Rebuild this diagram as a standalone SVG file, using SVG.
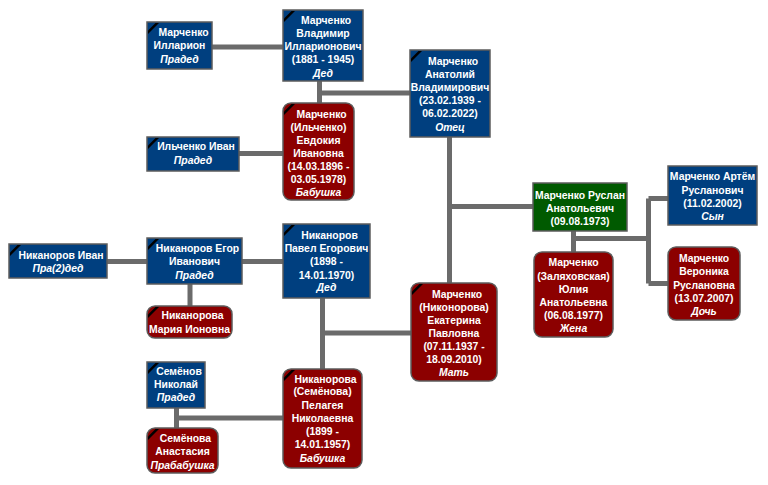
<svg xmlns="http://www.w3.org/2000/svg" width="768" height="485" viewBox="0 0 768 485">
<style>
.bx{stroke:#5c5c5c;stroke-width:1.5}
.b{fill:#003f7f}
.r{fill:#8c0000}
.g{fill:#005a00}
text{font-family:"Liberation Sans",Arial,sans-serif;font-size:10.4px;font-weight:bold;fill:#fff;text-anchor:middle}
.i{font-style:italic}
.c{stroke:#6b6b6b;stroke-width:5;fill:none}
</style>
<defs>
<path id="mk" d="M1,8.5 L8.5,1 L12,1 L1,12 Z" fill="#000"/>
</defs>
<rect width="768" height="485" fill="#fff"/>
<g id="connectors">
<path class="c" d="M212,47 H283"/>
<path class="c" d="M319.5,81 V103 M319.5,93 H410"/>
<path class="c" d="M239,153.5 H283"/>
<path class="c" d="M449.5,137 V283 M449.5,206.5 H533"/>
<path class="c" d="M573.5,231 V252 M573.5,238.5 H648.5 M648.5,198.5 V283.5 M648.5,198.5 H668 M648.5,283.5 H668"/>
<path class="c" d="M107,261.5 H147"/>
<path class="c" d="M190,284 V306"/>
<path class="c" d="M242,261.5 H283"/>
<path class="c" d="M322.5,298 V369 M322.5,333 H411"/>
<path class="c" d="M176.5,408 V428 M176.5,418 H283"/>
</g>
<g id="n1">
<rect class="bx b" x="147" y="22" width="65" height="47"/>
<use href="#mk" x="147" y="22"/>
<text x="183.5" y="35.5">Марченко</text>
<text x="179.5" y="49">Илларион</text>
<text x="179.5" y="62.5" class="i">Прадед</text>
</g>
<g id="n2">
<rect class="bx b" x="283" y="10" width="80" height="71"/>
<use href="#mk" x="283" y="10"/>
<text x="326" y="23.5">Марченко</text>
<text x="323" y="37">Владимир</text>
<text x="323" y="50">Илларионович</text>
<text x="323" y="63">(1881 - 1945)</text>
<text x="323" y="76.5" class="i">Дед</text>
</g>
<g id="n3">
<rect class="bx b" x="410" y="50" width="80" height="87"/>
<use href="#mk" x="410" y="50"/>
<text x="453" y="65">Марченко</text>
<text x="450" y="78">Анатолий</text>
<text x="450" y="91">Владимирович</text>
<text x="450" y="104">(23.02.1939 -</text>
<text x="450" y="117">06.02.2022)</text>
<text x="450" y="131" class="i">Отец</text>
</g>
<g id="n4">
<rect class="bx b" x="147" y="137" width="92" height="34"/>
<use href="#mk" x="147" y="137"/>
<text x="196" y="150">Ильченко Иван</text>
<text x="193" y="163.5" class="i">Прадед</text>
</g>
<g id="n5">
<rect class="bx r" x="283" y="103" width="71" height="97" rx="8"/>
<use href="#mk" x="283" y="103"/>
<text x="321.5" y="117.5">Марченко</text>
<text x="318.5" y="131">(Ильченко)</text>
<text x="318.5" y="144">Евдокия</text>
<text x="318.5" y="157">Ивановна</text>
<text x="318.5" y="170">(14.03.1896 -</text>
<text x="318.5" y="183">03.05.1978)</text>
<text x="318.5" y="196" class="i">Бабушка</text>
</g>
<g id="n6">
<rect class="bx g" x="533" y="183" width="94" height="48"/>
<text x="580" y="198.5">Марченко Руслан</text>
<text x="580" y="212">Анатольевич</text>
<text x="580" y="225">(09.08.1973)</text>
</g>
<g id="n7">
<rect class="bx b" x="668" y="166" width="89" height="59"/>
<text x="712.5" y="180">Марченко Артём</text>
<text x="712.5" y="193.5">Русланович</text>
<text x="712.5" y="207">(11.02.2002)</text>
<text x="712.5" y="220" class="i">Сын</text>
</g>
<g id="n8">
<rect class="bx r" x="534" y="252" width="79" height="85" rx="8"/>
<text x="573.5" y="266">Марченко</text>
<text x="573.5" y="279.5">(Заляховская)</text>
<text x="573.5" y="293">Юлия</text>
<text x="573.5" y="306">Анатольевна</text>
<text x="573.5" y="318.5">(06.08.1977)</text>
<text x="573.5" y="332" class="i">Жена</text>
</g>
<g id="n9">
<rect class="bx r" x="668" y="247" width="72" height="73" rx="8"/>
<text x="704" y="262">Марченко</text>
<text x="704" y="274.5">Вероника</text>
<text x="704" y="288.5">Руслановна</text>
<text x="704" y="302">(13.07.2007)</text>
<text x="704" y="315" class="i">Дочь</text>
</g>
<g id="n10">
<rect class="bx b" x="9" y="244" width="98" height="34"/>
<use href="#mk" x="9" y="244"/>
<text x="61" y="258.5">Никаноров Иван</text>
<text x="58" y="272" class="i">Пра(2)дед</text>
</g>
<g id="n11">
<rect class="bx b" x="147" y="238" width="95" height="46"/>
<use href="#mk" x="147" y="238"/>
<text x="197.5" y="252">Никаноров Егор</text>
<text x="194.5" y="265">Иванович</text>
<text x="194.5" y="278.5" class="i">Прадед</text>
</g>
<g id="n12">
<rect class="bx r" x="147" y="306" width="85" height="32" rx="8"/>
<use href="#mk" x="147" y="306"/>
<text x="192.5" y="319">Никанорова</text>
<text x="189.5" y="332.5">Мария Ионовна</text>
</g>
<g id="n13">
<rect class="bx b" x="283" y="224" width="87" height="74"/>
<use href="#mk" x="283" y="224"/>
<text x="329.5" y="238.5">Никаноров</text>
<text x="326.5" y="252">Павел Егорович</text>
<text x="326.5" y="265">(1898 -</text>
<text x="326.5" y="278.5">14.01.1970)</text>
<text x="326.5" y="291" class="i">Дед</text>
</g>
<g id="n14">
<rect class="bx r" x="411" y="283" width="86" height="98" rx="8"/>
<use href="#mk" x="411" y="283"/>
<text x="457" y="297.5">Марченко</text>
<text x="454" y="311">(Никонорова)</text>
<text x="454" y="324">Екатерина</text>
<text x="454" y="337">Павловна</text>
<text x="454" y="350">(07.11.1937 -</text>
<text x="454" y="363">18.09.2010)</text>
<text x="454" y="376" class="i">Мать</text>
</g>
<g id="n15">
<rect class="bx b" x="147" y="362" width="58" height="46"/>
<use href="#mk" x="147" y="362"/>
<text x="179" y="375">Семёнов</text>
<text x="176" y="388">Николай</text>
<text x="176" y="401" class="i">Прадед</text>
</g>
<g id="n16">
<rect class="bx r" x="147" y="428" width="71" height="45" rx="8"/>
<use href="#mk" x="147" y="428"/>
<text x="185.5" y="442">Семёнова</text>
<text x="182.5" y="455">Анастасия</text>
<text x="182.5" y="468.5" class="i">Прабабушка</text>
</g>
<g id="n17">
<rect class="bx r" x="283" y="369" width="79" height="99" rx="8"/>
<use href="#mk" x="283" y="369"/>
<text x="325.5" y="382.5">Никанорова</text>
<text x="322.5" y="395">(Семёнова)</text>
<text x="322.5" y="408.5">Пелагея</text>
<text x="322.5" y="421.5">Николаевна</text>
<text x="322.5" y="434.5">(1899 -</text>
<text x="322.5" y="448">14.01.1957)</text>
<text x="322.5" y="462" class="i">Бабушка</text>
</g>
</svg>
